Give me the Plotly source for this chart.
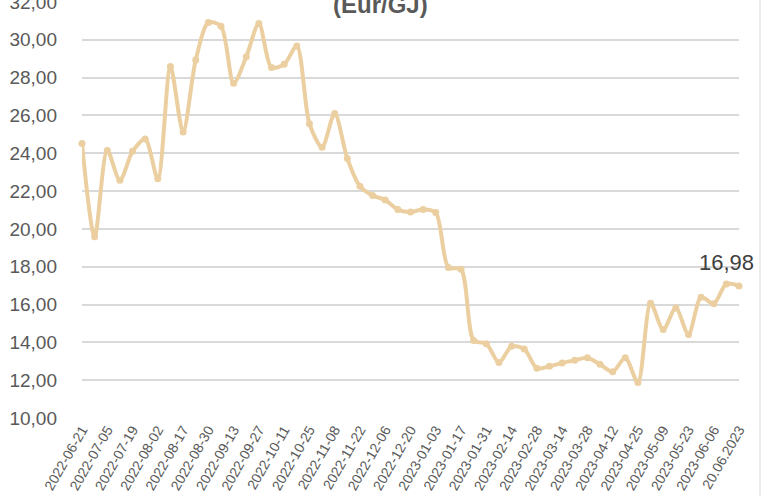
import plotly.graph_objects as go

dates = [
    "2022-06-21", "2022-06-28", "2022-07-05", "2022-07-12", "2022-07-19", "2022-07-26",
    "2022-08-02", "2022-08-09", "2022-08-17", "2022-08-23", "2022-08-30", "2022-09-06",
    "2022-09-13", "2022-09-20", "2022-09-27", "2022-10-04", "2022-10-11", "2022-10-18",
    "2022-10-25", "2022-11-01", "2022-11-08", "2022-11-15", "2022-11-22", "2022-11-29",
    "2022-12-06", "2022-12-13", "2022-12-20", "2022-12-27", "2023-01-03", "2023-01-10",
    "2023-01-17", "2023-01-24", "2023-01-31", "2023-02-07", "2023-02-14", "2023-02-21",
    "2023-02-28", "2023-03-07", "2023-03-14", "2023-03-21", "2023-03-28", "2023-04-04",
    "2023-04-12", "2023-04-18", "2023-04-25", "2023-05-02", "2023-05-09", "2023-05-16",
    "2023-05-23", "2023-05-30", "2023-06-06", "2023-06-13", "20.06.2023",
]
prices = [
    24.51, 19.58, 24.14, 22.57, 24.10, 24.75, 22.65, 28.58, 25.12, 28.93,
    30.91, 30.72, 27.70, 29.10, 30.86, 28.54, 28.70, 29.67, 25.56, 24.32,
    26.10, 23.72, 22.25, 21.76, 21.53, 21.02, 20.89, 21.03, 20.86, 17.96,
    17.86, 14.10, 13.93, 12.93, 13.79, 13.65, 12.63, 12.74, 12.91, 13.05,
    13.19, 12.84, 12.44, 13.19, 11.88, 16.07, 14.68, 15.81, 14.42, 16.39,
    16.04, 17.09, 16.98,
]
tick_labels = dates[::2]
y_ticks = [10, 12, 14, 16, 18, 20, 22, 24, 26, 28, 30, 32]
title_text = "(Eur/GJ)"
last_label = "16,98"

line_color = "#EBCFA0"
text_color = "#595959"
FONT = "Liberation Sans, Arial, sans-serif"

fig = go.Figure()
fig.add_trace(go.Scatter(
    x=dates, y=prices, mode="lines+markers",
    line=dict(color=line_color, width=4, shape="spline", smoothing=0.8),
    marker=dict(color=line_color, size=7),
    hoverinfo="x+y", showlegend=False, cliponaxis=False,
))

fig.add_annotation(
    x=dates[-1], y=prices[-1], text=last_label, showarrow=False,
    xanchor="center", yanchor="middle", yshift=24, xshift=-13,
    font=dict(family=FONT, size=22, color="#404040"),
)
fig.add_annotation(
    xref="paper", yref="paper", x=(380 - 82) / 657, y=1.0, yshift=-3,
    text="<b>" + title_text + "</b>", showarrow=False,
    xanchor="center", yanchor="middle",
    font=dict(family=FONT, size=24, color="#595959"),
)
fig.add_shape(
    type="line", xref="paper", yref="paper",
    x0=(760 - 82) / 657, x1=(760 - 82) / 657, y0=-0.3, y1=1.1,
    line=dict(color="#D9D9D9", width=1),
)

fig.update_layout(
    width=765, height=496,
    margin=dict(l=82, r=26, t=1, b=78, autoexpand=False),
    paper_bgcolor="white", plot_bgcolor="white",
    separators=", ",
    font=dict(family=FONT, color=text_color),
    xaxis=dict(
        type="category", range=[0, len(dates) - 1], automargin=False,
        tickmode="array", tickvals=tick_labels, ticktext=tick_labels,
        tickangle=-60, tickfont=dict(size=14, color=text_color),
        showgrid=False, zeroline=False, showline=False, ticks="",
    ),
    yaxis=dict(
        range=[10, 32.05], tickvals=y_ticks, tickformat=".2f", automargin=False,
        tickfont=dict(size=19, color=text_color), ticklabeloverflow="allow",
        showgrid=True, gridcolor="#D9D9D9", gridwidth=1.5,
        zeroline=False, showline=False, ticks="", ticklabelstandoff=24,
    ),
)

fig.write_html(
    "out.html",
    config={"displayModeBar": False},
    post_script="document.body.style.margin='0';document.body.style.padding='0';document.body.style.overflow='hidden';",
)
